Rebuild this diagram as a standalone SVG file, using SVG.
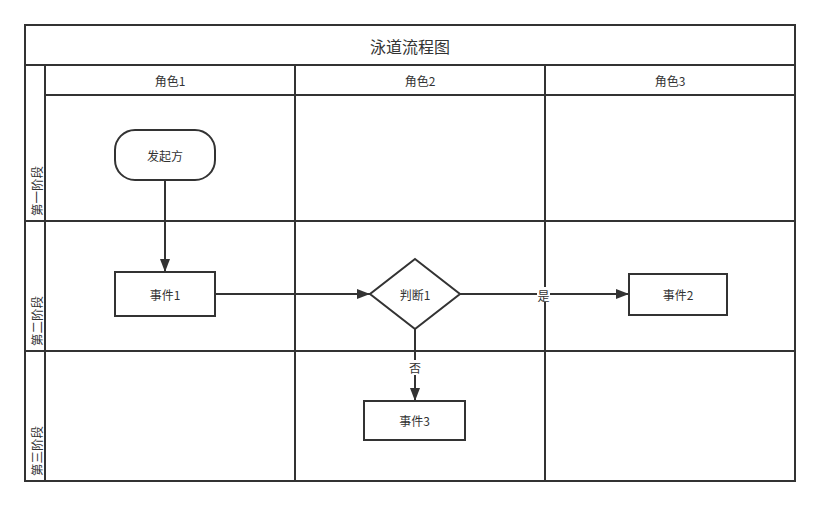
<svg xmlns="http://www.w3.org/2000/svg" width="820" height="507" viewBox="0 0 820 507">
<style>
.grid{fill:none;stroke:#333;stroke-width:2}
.node{fill:#fff;stroke:#333;stroke-width:2}
.edge{fill:none;stroke:#333;stroke-width:2}
text{font-family:"Noto Sans CJK SC","Liberation Sans",sans-serif;fill:#333;font-size:12px;dominant-baseline:central;text-anchor:middle}
.title{font-size:16px}
.stage{text-anchor:start;font-size:12.5px}
.lbl{fill:#fff;stroke:none}
</style>
<defs>
<marker id="arr" viewBox="0 0 13 10" refX="13" refY="5" markerWidth="13" markerHeight="10" markerUnits="userSpaceOnUse" orient="auto">
<path d="M0,0 L13,5 L0,10 Z" fill="#333"/>
</marker>
</defs>
<rect width="820" height="507" fill="#fff"/>
<g id="lanes">
<rect class="grid" x="25" y="25" width="770" height="456"/>
<line class="grid" x1="25" y1="65" x2="795" y2="65"/>
<line class="grid" x1="45" y1="95" x2="795" y2="95"/>
<line class="grid" x1="45" y1="65" x2="45" y2="481"/>
<line class="grid" x1="295" y1="65" x2="295" y2="481"/>
<line class="grid" x1="545" y1="65" x2="545" y2="481"/>
<line class="grid" x1="25" y1="221" x2="795" y2="221"/>
<line class="grid" x1="25" y1="351" x2="795" y2="351"/>
<text class="title" x="410" y="46">泳道流程图</text>
<text x="170" y="80">角色1</text>
<text x="420" y="80">角色2</text>
<text x="670" y="80">角色3</text>
<text class="stage" transform="translate(36,216) rotate(-90)">第一阶段</text>
<text class="stage" transform="translate(36,346) rotate(-90)">第二阶段</text>
<text class="stage" transform="translate(36,476) rotate(-90)">第三阶段</text>
</g>
<g id="connectors">
<line class="edge" x1="165" y1="180" x2="165" y2="272" marker-end="url(#arr)"/>
<line class="edge" x1="215" y1="294" x2="370" y2="294" marker-end="url(#arr)"/>
<line class="edge" x1="460" y1="294" x2="629" y2="294" marker-end="url(#arr)"/>
<line class="edge" x1="415" y1="329" x2="415" y2="401" marker-end="url(#arr)"/>
<rect class="lbl" x="537" y="287" width="13" height="15"/>
<text x="543.5" y="295">是</text>
<rect class="lbl" x="408" y="360" width="14" height="15"/>
<text x="415" y="367">否</text>
</g>
<g id="start">
<rect class="node" x="115" y="130" width="100" height="50" rx="20" ry="20"/>
<text x="165" y="155">发起方</text>
</g>
<g id="event1">
<rect class="node" x="115" y="272" width="100" height="44"/>
<text x="165" y="294">事件1</text>
</g>
<g id="decision1">
<polygon class="node" points="415,259 460,294 415,329 370,294"/>
<text x="415" y="294">判断1</text>
</g>
<g id="event2">
<rect class="node" x="629" y="274" width="98" height="41"/>
<text x="678" y="294.5">事件2</text>
</g>
<g id="event3">
<rect class="node" x="364" y="401" width="101" height="39"/>
<text x="414.5" y="420.5">事件3</text>
</g>
</svg>
